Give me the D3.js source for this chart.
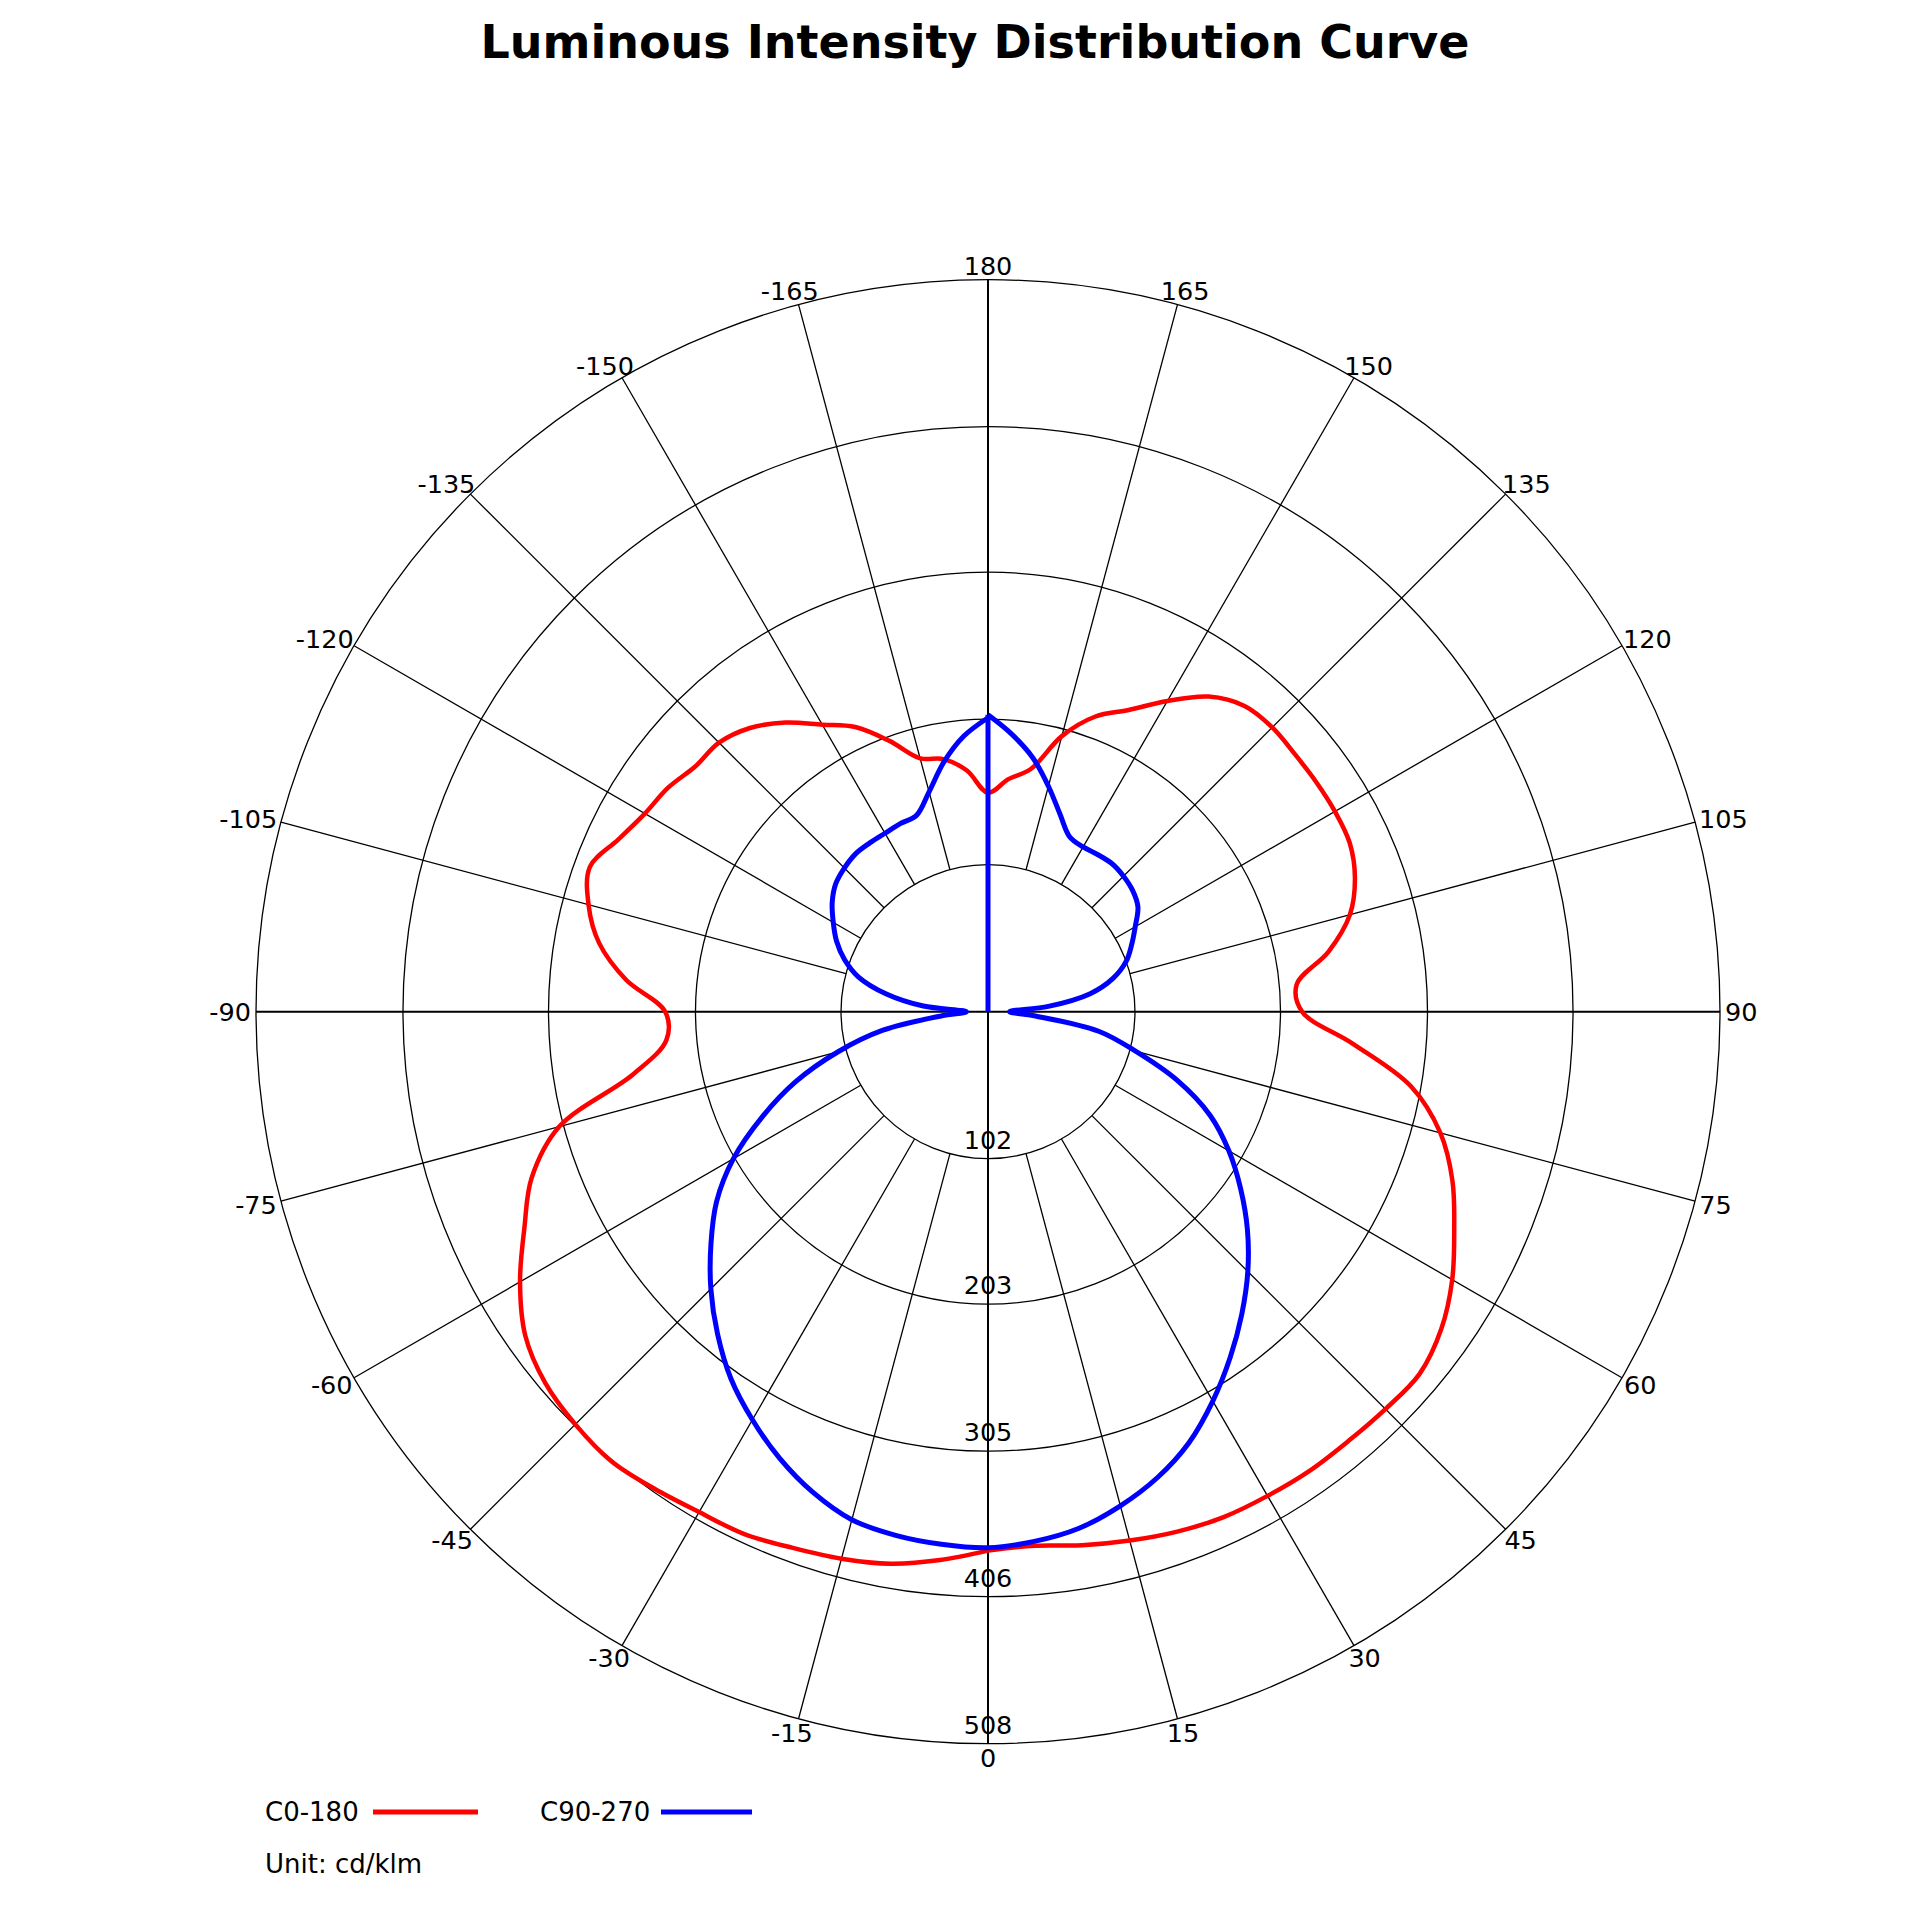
<!DOCTYPE html>
<html>
<head>
<meta charset="utf-8">
<script src="https://cdn.jsdelivr.net/npm/d3@7"></script>
<style>
  body { margin: 0; background: #fff; }
  svg text { font-family: "DejaVu Sans", Verdana, sans-serif; fill: #000; }
</style>
</head>
<body>
<div id="chart"></div>
<script>
// vertical angle gamma (deg), 0 = straight down
const gammaAngles = [0, 5, 10, 15, 20, 25, 30, 35, 40, 45, 50, 55, 60, 65, 70, 75, 80, 85, 90,
                     95, 100, 105, 110, 115, 120, 125, 130, 135, 140, 145, 150, 155, 160, 165, 170, 175, 180];

// C0 plane (right half of the red curve)
const c0 = [374, 372, 376, 380, 384, 387, 388, 389, 389, 390, 391, 384, 372, 357, 343, 325, 298, 254, 218,
            215, 240, 260, 271, 277, 278, 278, 278, 279, 277, 267, 249, 231, 218, 198, 171, 162, 152];
// C180 plane (left half of the red curve)
const c180 = [374, 382, 389, 393, 396, 400, 401, 404, 407, 405, 401, 392, 375, 355, 337, 308, 250, 224, 224,
              252, 274, 287, 294, 283, 275, 271, 265, 264, 257, 245, 230, 218, 200, 182, 178, 168, 152];
// C90 plane (right half of the blue curve)
const c90 = [372, 369, 364, 355, 344, 330, 312, 293, 274, 255, 235, 214, 193, 170, 140, 106, 78, 32, 15,
             42, 72, 90, 102, 110, 118, 127, 131, 133, 134, 133, 132, 134, 146, 162, 179, 193, 206];
// C270 plane (left half of the blue curve)
const c270 = [372, 371, 369, 365, 355, 342, 327, 311, 292, 272, 251, 230, 204, 173, 142, 108, 74, 32, 15,
              45, 72, 93, 106, 116, 124, 132, 138, 141, 143, 143, 143, 144, 145, 158, 176, 192, 204];

const ringTicks = [102, 203, 305, 406, 508];
const maxValue = 508;
const angleTicks = [0, 15, 30, 45, 60, 75, 90, 105, 120, 135, 150, 165, 180,
                    -15, -30, -45, -60, -75, -90, -105, -120, -135, -150, -165];
const seriesNames = ["C0-180", "C90-270"];
const seriesColors = ["#ff0000", "#0000ff"];
const titleText = "Luminous Intensity Distribution Curve";
const unitText = "Unit: cd/klm";

const width = 1920, height = 1920;
const cx = 988, cy = 1011.7, R = 732;

const svg = d3.select("#chart")
    .append("svg")
    .attr("width", width)
    .attr("height", height);

svg.append("rect").attr("width", width).attr("height", height).attr("fill", "#fff");

// Title
svg.append("text")
    .attr("x", 975)
    .attr("y", 58)
    .attr("text-anchor", "middle")
    .attr("font-size", "46px")
    .attr("font-weight", "bold")
    .text(titleText);

const rScale = d3.scaleLinear().domain([0, maxValue]).range([0, R]);
const toRad = (g) => Math.PI - g * Math.PI / 180; // lineRadial angle, gamma 0 at the bottom
const px = (g, r) => r * Math.sin(g * Math.PI / 180);
const py = (g, r) => r * Math.cos(g * Math.PI / 180);

const plot = svg.append("g").attr("transform", `translate(${cx},${cy})`);

// Rings
plot.selectAll(".ring")
    .data(ringTicks)
    .join("circle")
    .attr("class", "ring")
    .attr("r", (d) => rScale(d))
    .attr("fill", "none")
    .attr("stroke", "#000")
    .attr("stroke-width", 1.3);

// Spokes, from the first ring outwards
const innerR = rScale(ringTicks[0]);
plot.selectAll(".spoke")
    .data(angleTicks.filter((a) => Math.abs(a) % 90 !== 0))
    .join("line")
    .attr("class", "spoke")
    .attr("x1", (a) => px(a, innerR))
    .attr("y1", (a) => py(a, innerR))
    .attr("x2", (a) => px(a, R))
    .attr("y2", (a) => py(a, R))
    .attr("stroke", "#000")
    .attr("stroke-width", 1.3);

// Main axes through the centre
plot.selectAll(".axis")
    .data([[0, 180], [90, -90]])
    .join("line")
    .attr("class", "axis")
    .attr("x1", (d) => px(d[0], R))
    .attr("y1", (d) => py(d[0], R))
    .attr("x2", (d) => px(d[1], R))
    .attr("y2", (d) => py(d[1], R))
    .attr("stroke", "#000")
    .attr("stroke-width", 2);

const radial = d3.lineRadial()
    .angle((d) => toRad(d[0]))
    .radius((d) => rScale(d[1]));

// C0-180: right half up, left half back down, closed
const redPts = gammaAngles.map((a, i) => [a, c0[i]])
    .concat(gammaAngles.slice(0, -1).reverse().map((a) => [-a, c180[gammaAngles.indexOf(a)]]));

// C90-270: C90 from the top down, then C270 back up
const bluePts = gammaAngles.slice().reverse().map((a) => [a, c90[gammaAngles.indexOf(a)]])
    .concat(gammaAngles.slice(1).map((a, i) => [-a, c270[i + 1]]));
// the blue trace also has a straight stroke from the origin to its C90 top point
const blueSpike = [[180, 0], bluePts[0]];

plot.append("path")
    .attr("d", radial.curve(d3.curveCatmullRomClosed.alpha(0.5))(redPts))
    .attr("fill", "none")
    .attr("stroke", seriesColors[0])
    .attr("stroke-width", 4.5)
    .attr("stroke-linejoin", "round");

plot.append("path")
    .attr("d", radial.curve(d3.curveLinear)(blueSpike))
    .attr("fill", "none")
    .attr("stroke", seriesColors[1])
    .attr("stroke-width", 5);

plot.append("path")
    .attr("d", radial.curve(d3.curveCatmullRom.alpha(0.5))(bluePts))
    .attr("fill", "none")
    .attr("stroke", seriesColors[1])
    .attr("stroke-width", 5)
    .attr("stroke-linejoin", "round");

// Ring value labels along the 0 direction
plot.selectAll(".ring-label")
    .data(ringTicks)
    .join("text")
    .attr("class", "ring-label")
    .attr("x", 0)
    .attr("y", (d) => rScale(d) - 10)
    .attr("text-anchor", "middle")
    .attr("font-size", "25.5px")
    .text((d) => d);

// Angle labels just outside the outer ring
const labelH = 18.5, gap = 5;
plot.selectAll(".angle-label")
    .data(angleTicks)
    .join("text")
    .attr("class", "angle-label")
    .attr("text-anchor", "middle")
    .attr("font-size", "25.5px")
    .text((a) => a)
    .each(function (a) {
        const w = this.getComputedTextLength();
        const s = Math.sin(a * Math.PI / 180), c = Math.cos(a * Math.PI / 180);
        const x = px(a, R) + s * (w / 2 + gap);
        const y = py(a, R) + c * (labelH / 2 + gap);
        d3.select(this).attr("x", x).attr("y", y + labelH / 2);
    });

// Legend
const legend = svg.append("g");
const legendItems = [
    { text: seriesNames[0], tx: 265, x1: 373, x2: 478, color: seriesColors[0] },
    { text: seriesNames[1], tx: 540, x1: 661, x2: 752, color: seriesColors[1] }
];
legendItems.forEach((d) => {
    legend.append("text")
        .attr("x", d.tx)
        .attr("y", 1821)
        .attr("font-size", "26px")
        .text(d.text);
    legend.append("line")
        .attr("x1", d.x1)
        .attr("x2", d.x2)
        .attr("y1", 1812)
        .attr("y2", 1812)
        .attr("stroke", d.color)
        .attr("stroke-width", 5);
});
legend.append("text")
    .attr("x", 265)
    .attr("y", 1873)
    .attr("font-size", "26px")
    .text(unitText);
</script>
</body>
</html>
